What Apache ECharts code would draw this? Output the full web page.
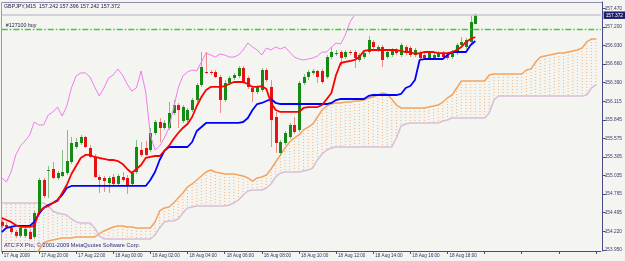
<!DOCTYPE html>
<html><head><meta charset="utf-8">
<script src="https://cdn.jsdelivr.net/npm/echarts@6/dist/echarts.min.js"></script>
<style>html,body{margin:0;padding:0;background:#f4f4f0}#c{width:625px;height:261px}</style>
</head><body><div id="c"></div>
<script>
// ---- data ----
const xTickLabels = ['17 Aug 2009','17 Aug 20:00','17 Aug 22:00','18 Aug 00:00','18 Aug 02:00','18 Aug 04:00','18 Aug 06:00','18 Aug 08:00','18 Aug 10:00','18 Aug 12:00','18 Aug 14:00','18 Aug 16:00','18 Aug 18:00'];
const yTickValues = [157.470,157.200,156.930,156.660,156.390,156.115,155.845,155.575,155.305,155.035,154.765,154.495,154.220,153.950];
const titleText = 'GBPJPY,M15  157.242 157.396 157.242 157.372';
const footerText = 'ATC FX Pro, \u00a9 2001-2009 MetaQuotes Software Corp.';
const bidPrice = 157.372;
const orderPrice = 157.164;
const orderLabel = '#127100 buy';

const openP = [154.360,154.316,154.273,154.214,154.156,154.156,154.214,154.141,154.490,154.971,
155.116,155.131,155.000,155.029,155.073,155.233,155.451,155.509,155.597,155.437,
155.306,155.014,155.000,154.927,155.014,154.913,155.014,155.000,154.913,155.087,
155.408,155.437,155.408,155.655,155.815,155.728,155.728,155.946,156.062,155.830,
155.844,155.990,156.135,156.354,156.543,156.543,156.543,156.470,156.135,156.383,
156.456,156.485,156.601,156.456,156.310,156.252,156.281,156.572,156.325,155.888,
155.364,155.509,155.597,155.771,155.699,156.383,156.470,156.529,156.558,156.558,
156.470,156.761,156.805,156.834,156.761,156.834,156.834,156.718,156.761,156.834,
156.980,156.863,156.907,156.761,156.790,156.863,156.790,156.907,156.892,156.790,
156.819,156.790,156.747,156.747,156.761,156.819,156.790,156.761,156.819,156.936,
156.907,156.980,157.242];
const closeP = [154.302,154.287,154.214,154.156,154.273,154.258,154.112,154.490,154.971,154.738,
155.116,155.000,155.073,155.087,155.247,155.509,155.524,155.597,155.451,155.306,
155.014,154.971,154.956,155.000,154.913,155.029,154.971,154.898,155.073,155.451,
155.335,155.335,155.655,155.815,155.728,155.801,155.946,156.062,155.990,156.033,
155.990,156.135,156.354,156.616,156.529,156.529,156.470,156.135,156.383,156.456,
156.499,156.601,156.397,156.325,156.252,156.325,156.572,156.426,155.844,155.509,
155.524,155.655,155.771,155.670,156.383,156.470,156.543,156.558,156.470,156.397,
156.761,156.834,156.819,156.747,156.834,156.819,156.747,156.790,156.819,157.009,
156.907,156.907,156.718,156.834,156.863,156.819,156.936,156.819,156.790,156.863,
156.747,156.747,156.819,156.790,156.819,156.761,156.747,156.834,156.936,156.980,
157.009,157.271,157.372];
const lowP = [154.273,154.258,154.185,154.127,154.127,154.127,154.098,154.112,154.461,154.709,
154.709,154.985,154.971,155.014,155.043,155.204,155.422,155.480,155.437,155.291,
155.000,154.781,154.796,154.781,154.884,154.884,154.942,154.767,154.884,155.058,
155.306,155.320,155.379,155.626,155.524,155.699,155.699,155.917,155.728,155.801,
155.815,155.961,156.106,156.325,156.514,156.499,156.456,155.946,156.106,156.354,
156.426,156.456,156.368,156.296,156.106,156.223,156.252,156.397,155.451,155.364,
155.320,155.480,155.568,155.641,155.670,156.354,156.426,156.499,156.383,156.368,
156.441,156.732,156.776,156.630,156.732,156.790,156.601,156.689,156.732,156.805,
156.878,156.834,156.616,156.732,156.761,156.790,156.761,156.790,156.761,156.761,
156.718,156.718,156.718,156.718,156.732,156.732,156.718,156.732,156.790,156.907,
156.878,156.951,157.242];
const highP = [154.389,154.345,154.302,154.243,154.316,154.287,154.258,154.519,155.000,155.000,
155.175,155.233,155.102,155.408,155.699,155.597,155.582,155.626,155.611,155.480,
155.349,155.043,155.029,155.029,155.058,155.058,155.087,155.043,155.102,155.553,
155.524,155.539,155.728,155.844,155.873,155.844,156.106,156.135,156.091,156.062,
156.019,156.164,156.383,156.834,156.834,156.572,156.572,156.499,156.426,156.485,
156.529,156.630,156.630,156.485,156.339,156.354,156.601,156.601,156.426,155.961,
155.553,155.684,155.801,155.888,156.412,156.514,156.572,156.587,156.572,156.587,
156.790,156.907,156.863,156.863,156.863,156.863,156.863,156.819,156.849,157.067,
157.009,156.936,156.936,156.863,156.892,156.892,156.965,156.936,156.921,156.892,
156.849,156.834,156.849,156.819,156.849,156.849,156.819,156.863,156.965,157.052,
157.038,157.358,157.396];
const tenkan = [154.418,154.389,154.360,154.316,154.287,154.287,154.287,154.302,154.505,154.563,
154.592,154.636,154.665,154.781,154.898,155.058,155.175,155.291,155.335,155.335,
155.306,155.291,155.277,155.262,155.262,155.247,155.204,155.131,155.073,155.131,
155.189,155.291,155.306,155.320,155.320,155.393,155.466,155.568,155.655,155.728,
155.786,155.888,156.048,156.179,156.281,156.325,156.325,156.325,156.339,156.368,
156.397,156.397,156.397,156.368,156.325,156.325,156.339,156.296,156.092,155.990,
155.961,155.961,155.961,155.961,155.961,156.019,156.033,156.033,156.033,156.062,
156.150,156.237,156.499,156.674,156.689,156.703,156.718,156.761,156.849,156.863,
156.863,156.863,156.863,156.863,156.863,156.863,156.849,156.834,156.834,156.805,
156.819,156.834,156.834,156.834,156.819,156.819,156.819,156.834,156.863,156.907,
156.980,157.023,157.052];
const kijun = [154.214,154.273,154.287,154.302,154.302,154.302,154.302,154.360,154.476,154.563,
154.607,154.636,154.680,154.753,154.854,154.884,154.884,154.884,154.884,154.884,
154.884,154.884,154.884,154.884,154.884,154.884,154.884,154.884,154.884,154.884,
154.884,154.884,154.971,155.087,155.262,155.393,155.451,155.451,155.451,155.451,
155.451,155.524,155.684,155.742,155.801,155.801,155.801,155.801,155.801,155.801,
155.801,155.801,155.815,155.873,155.990,156.077,156.092,156.121,156.150,156.092,
156.077,156.077,156.077,156.077,156.077,156.077,156.077,156.077,156.077,156.077,
156.077,156.092,156.135,156.150,156.150,156.150,156.150,156.150,156.150,156.194,
156.208,156.208,156.208,156.208,156.208,156.208,156.223,156.310,156.339,156.426,
156.718,156.732,156.732,156.732,156.732,156.732,156.790,156.834,156.834,156.834,
156.834,156.936,156.994];
const chikou = [155.000,154.942,155.087,155.335,155.466,155.539,155.626,155.815,155.771,155.771,
155.917,155.961,156.033,155.902,156.048,156.310,156.485,156.529,156.529,156.470,
156.325,156.194,156.310,156.456,156.499,156.587,156.499,156.368,156.266,156.310,
156.558,156.252,155.626,155.408,155.466,155.582,155.728,156.019,156.310,156.485,
156.543,156.572,156.558,156.689,156.819,156.790,156.761,156.805,156.790,156.761,
156.761,156.790,156.863,156.965,156.907,156.863,156.790,156.892,156.863,156.907,
156.878,156.907,156.834,156.761,156.732,156.718,156.732,156.747,156.776,156.834,
156.834,156.907,156.965,156.951,157.082,157.271,157.373];
const senkouA = [153.865,153.865,153.865,153.865,153.865,153.865,153.865,153.865,153.952,154.054,
154.083,154.098,154.112,154.127,154.127,154.127,154.141,154.141,154.141,154.141,
154.141,154.185,154.229,154.258,154.287,154.302,154.302,154.287,154.287,154.273,
154.273,154.273,154.273,154.360,154.520,154.563,154.578,154.636,154.709,154.781,
154.869,154.913,154.971,155.029,155.087,155.116,155.087,155.073,155.058,155.058,
155.058,155.043,155.029,155.000,154.956,155.000,155.014,155.043,155.131,155.233,
155.335,155.437,155.524,155.582,155.626,155.699,155.742,155.786,155.888,155.990,
156.048,156.077,156.092,156.092,156.106,156.106,156.121,156.121,156.135,156.165,
156.179,156.208,156.237,156.223,156.150,156.062,156.019,156.019,156.019,156.019,
156.019,156.019,156.033,156.048,156.062,156.106,156.165,156.208,156.310,156.412,
156.412,156.412,156.412,156.412,156.412,156.499,156.514,156.514,156.514,156.514,
156.514,156.514,156.514,156.572,156.587,156.689,156.761,156.776,156.790,156.805,
156.819,156.819,156.834,156.849,156.863,156.892,156.980,157.023,157.023];
const senkouB = [154.636,154.636,154.636,154.636,154.636,154.636,154.636,154.636,154.636,154.636,
154.592,154.520,154.490,154.476,154.461,154.403,154.360,154.345,154.345,154.345,
154.273,154.156,154.112,154.112,154.112,154.112,154.112,154.112,154.112,154.112,
154.112,154.112,154.112,154.170,154.273,154.360,154.374,154.374,154.403,154.490,
154.563,154.578,154.592,154.592,154.592,154.592,154.592,154.592,154.592,154.607,
154.636,154.680,154.753,154.811,154.825,154.825,154.825,154.854,154.913,155.014,
155.073,155.087,155.087,155.087,155.087,155.102,155.116,155.146,155.262,155.349,
155.408,155.437,155.451,155.451,155.451,155.451,155.451,155.451,155.451,155.451,
155.451,155.451,155.451,155.451,155.451,155.582,155.757,155.786,155.801,155.801,
155.801,155.801,155.801,155.801,155.801,155.830,155.844,155.873,155.873,155.873,
155.873,155.873,155.873,155.873,155.873,155.946,156.135,156.194,156.194,156.194,
156.194,156.194,156.194,156.194,156.194,156.194,156.194,156.194,156.194,156.194,
156.194,156.194,156.194,156.194,156.194,156.194,156.208,156.310,156.354];

// category axis: 15-minute bars from 17 Aug 18:00
const categories = [];
for (let i = 0; i < 130; i++) {
  const m = 18 * 60 + 15 * i;
  const d = 17 + Math.floor(m / 1440);
  const hh = Math.floor((m % 1440) / 60), mm = m % 60;
  categories.push(d + ' Aug ' + String(hh).padStart(2, '0') + ':' + String(mm).padStart(2, '0'));
}

// ---- chart ----
const FONT = 'Liberation Sans, Arial, sans-serif';
const AXIS = '#4a4a84';
const chart = echarts.init(document.getElementById('c'), null, {renderer: 'canvas'});

const candleData = openP.map((o, i) => [i, o, closeP[i], lowP[i], highP[i]]);
const cloudData = senkouA.map((a, i) => [i, a, senkouB[i]]);

chart.setOption({
  animation: false,
  backgroundColor: '#f4f4f0',
  grid: {left: 1.8, right: 23.9, top: 2, bottom: 10, show: false},
  xAxis: {
    type: 'category', data: categories, boundaryGap: false,
    axisLine: {show: true, lineStyle: {color: AXIS, width: 1}},
    axisTick: {show: true, length: 3, interval: (idx) => idx % 8 === 0, lineStyle: {color: AXIS}},
    axisLabel: {
      interval: (idx) => idx % 8 === 0,
      formatter: (v, idx) => xTickLabels[idx / 8] || '',
      align: 'left', fontSize: 4.6, color: '#33336e', margin: 2, padding: [0, 0, 0, 2], fontFamily: FONT
    },
    splitLine: {show: false}
  },
  yAxis: {
    type: 'value', position: 'right', offset: 2, min: 153.937, max: 157.562,
    axisLine: {show: true, lineStyle: {color: AXIS, width: 1}},
    axisTick: {show: true, length: 3, customValues: yTickValues, lineStyle: {color: AXIS}},
    axisLabel: {customValues: yTickValues, formatter: (v) => v.toFixed(3), fontSize: 4.8, color: '#3a3a72', margin: 2, fontFamily: FONT},
    splitLine: {show: false}
  },
  graphic: [
    {type: 'line', shape: {x1: 1.5, y1: 2.5, x2: 603, y2: 2.5}, style: {stroke: '#8e8eac', lineWidth: 1}, silent: true},
    {type: 'line', shape: {x1: 1.5, y1: 2.5, x2: 1.5, y2: 251}, style: {stroke: '#9a9ab4', lineWidth: 1}, silent: true},
    {type: 'text', left: 4, top: 4, style: {text: titleText, fontSize: 5.3, fill: '#202048', fontFamily: FONT}, silent: true, z: 10},
    {type: 'text', left: 4, top: 242.5, style: {text: footerText, fontSize: 5.6, fill: '#2a2a80', fontFamily: FONT}, silent: true, z: 10}
  ],
  series: [
    {
      type: 'custom', name: 'cloud', data: cloudData, clip: true, z: 1,
      encode: {x: 0, y: [1, 2]},
      renderItem: (params, api) => {
        const i = api.value(0), a = api.value(1), b = api.value(2);
        const p1 = api.coord([i, a]), p2 = api.coord([i, b]);
        return {type: 'line', shape: {x1: p1[0], y1: p1[1], x2: p2[0], y2: p2[1]},
          style: {stroke: a >= b ? '#f4a460' : '#e4a0a0', lineWidth: 1, lineDash: [1, 2], opacity: 0.8}};
      }
    },
    {type: 'line', name: 'Senkou Span A', data: senkouA, showSymbol: false, z: 2, lineStyle: {color: '#f4a460', width: 1.5}},
    {type: 'line', name: 'Senkou Span B', data: senkouB, showSymbol: false, z: 2, lineStyle: {color: '#d8bfd8', width: 1.5}},
    {
      type: 'custom', name: 'GBPJPY', data: candleData, clip: true, z: 3,
      encode: {x: 0, y: [1, 2, 3, 4]},
      renderItem: (params, api) => {
        const i = api.value(0), o = api.value(1), c = api.value(2), l = api.value(3), h = api.value(4);
        const pO = api.coord([i, o]), pC = api.coord([i, c]), pL = api.coord([i, l]), pH = api.coord([i, h]);
        const x = Math.round(pO[0]) + 0.5;
        const up = c >= o;
        const top = Math.min(pO[1], pC[1]), bot = Math.max(pO[1], pC[1]);
        return {type: 'group', children: [
          {type: 'line', shape: {x1: x, y1: pH[1], x2: x, y2: pL[1]}, style: {stroke: up ? '#86bd86' : '#f08c8c', lineWidth: 1}},
          {type: 'rect', shape: {x: x - 1.5, y: top, width: 3, height: Math.max(bot - top, 1)}, style: {fill: up ? '#148c14' : '#e41414'}}
        ]};
      }
    },
    {type: 'line', name: 'Chinkou Span', data: chikou, showSymbol: false, z: 4, lineStyle: {color: '#f07cf0', width: 1}},
    {type: 'line', name: 'Kijun-sen', data: kijun, showSymbol: false, z: 5, lineStyle: {color: '#0000ff', width: 1.8}},
    {
      type: 'line', name: 'Tenkan-sen', data: tenkan, showSymbol: false, z: 6, lineStyle: {color: '#ff0000', width: 1.8},
      markLine: {
        silent: true, symbol: 'none', animation: false,
        data: [
          {yAxis: bidPrice, lineStyle: {color: '#c6c6d2', width: 1.5, type: 'solid'},
            label: {show: true, position: 'end', distance: 3, formatter: bidPrice.toFixed(3), color: '#ffffff', backgroundColor: '#1e1e6e',
              padding: [1.5, 2, 1, 2], fontSize: 4.8, fontFamily: FONT}},
          {yAxis: orderPrice, lineStyle: {color: '#40c840', width: 1.3, type: [6, 2, 1.5, 2], opacity: 1},
            label: {show: true, position: 'insideStartTop', distance: [4, 2], formatter: orderLabel, color: '#202048', fontSize: 5.3, fontFamily: FONT}}
        ]
      }
    }
  ]
});
</script></body></html>
